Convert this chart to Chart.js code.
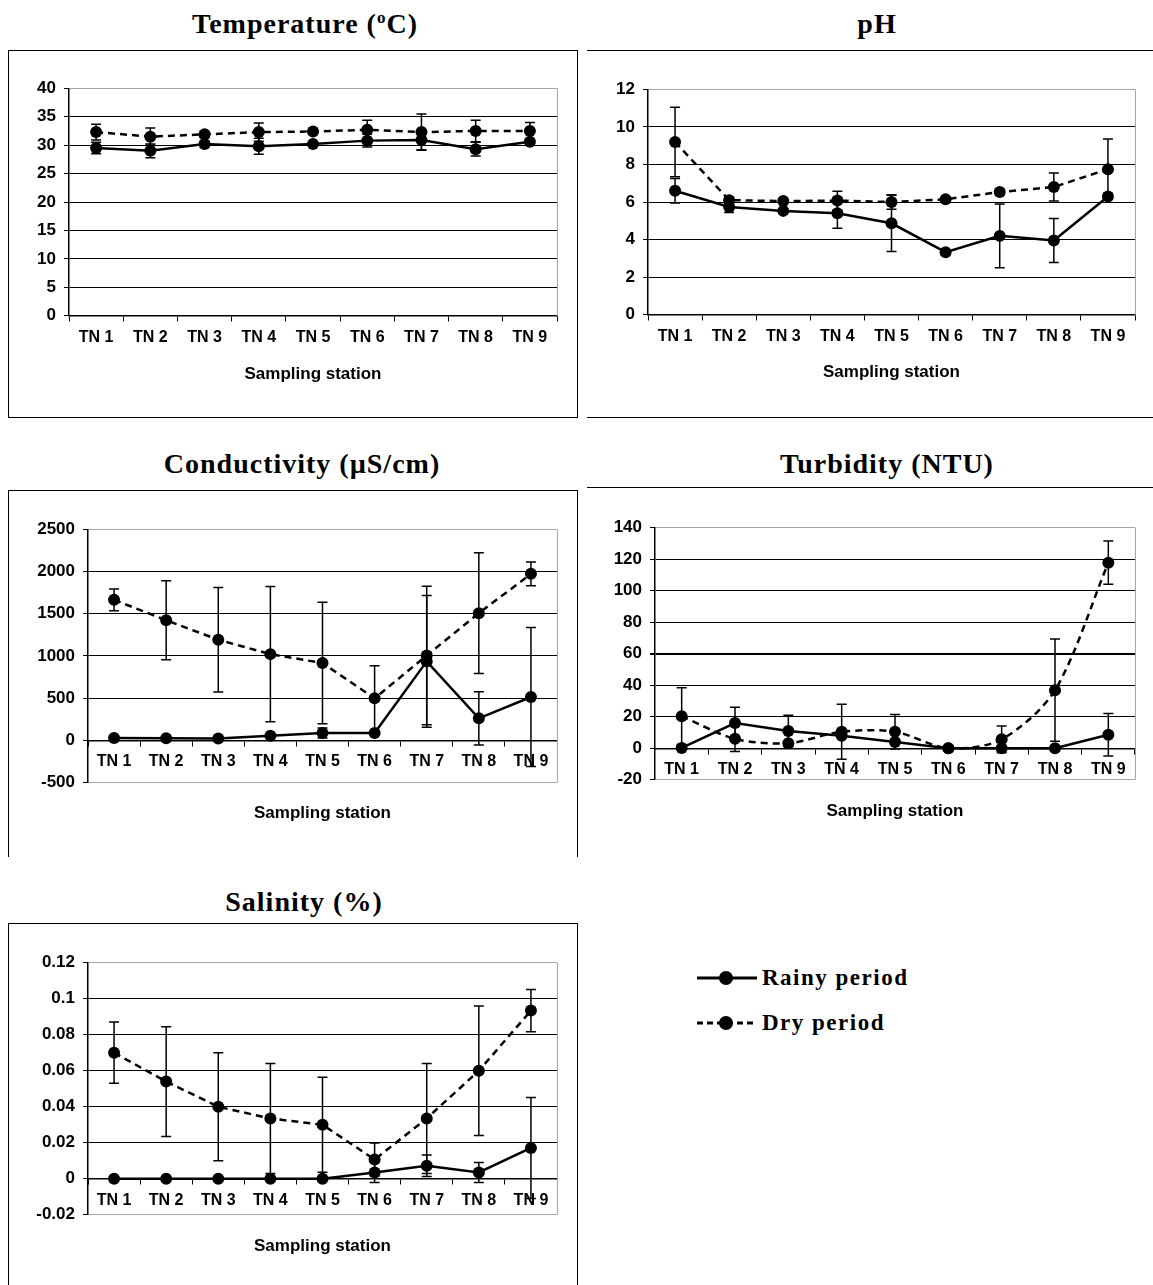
<!DOCTYPE html>
<html>
<head>
<meta charset="utf-8">
<script src="https://cdn.jsdelivr.net/npm/chart.js@4.4.0/dist/chart.umd.min.js"></script>
<style>
  body { margin: 0; background: #fff; }
  #page { position: relative; width: 1153px; height: 1285px; overflow: hidden; background: #fff; }
  .title { position: absolute; font: bold 28px 'Liberation Serif', 'Times New Roman', serif; line-height: 30px;
           letter-spacing: 1px; white-space: nowrap; transform: translateX(-50%); color: #000; }
  .title sup { font-size: 17px; vertical-align: 10px; line-height: 0; }
  .box { position: absolute; box-sizing: border-box; border: 0 solid #000; }
  .box canvas { display: block; }
  .legend { position: absolute; left: 695px; font: bold 23px 'Liberation Serif', 'Times New Roman', serif;
            letter-spacing: 1.5px; color: #000; }
  .legend div { position: absolute; left: 0; height: 30px; white-space: nowrap; }
  .legend svg { position: absolute; left: 0; top: 0; }
  .legend span { position: absolute; left: 67px; top: 0; line-height: 30px; }
</style>
</head>
<body>
<div id="page">
  <div class="title" style="left:305px;top:8.6px">Temperature (<sup>o</sup>C)</div>
  <div class="title" style="left:877px;top:8.6px">pH</div>
  <div class="title" style="left:302px;top:448.6px">Conductivity (µS/cm)</div>
  <div class="title" style="left:887px;top:448.6px">Turbidity (NTU)</div>
  <div class="title" style="left:304px;top:886.6px">Salinity (%)</div>

  <div class="box" style="left:8px;top:50px;width:570px;height:368px;border-width:1px"><canvas id="tempChart" width="568" height="366"></canvas></div>
  <div class="box" style="left:587px;top:50px;width:566px;height:368px;border-width:1px 0"><canvas id="phChart" width="566" height="366"></canvas></div>
  <div class="box" style="left:8px;top:490px;width:570px;height:367px;border-width:1px 1px 0 1px"><canvas id="condChart" width="568" height="366"></canvas></div>
  <div class="box" style="left:587px;top:487px;width:566px;height:367px;border-width:1px 0 0 0"><canvas id="turbChart" width="566" height="366"></canvas></div>
  <div class="box" style="left:8px;top:923px;width:570px;height:362px;border-width:1px 1px 0 1px"><canvas id="salChart" width="568" height="361"></canvas></div>

  <div class="legend" style="top:963px">
    <div style="top:0">
      <svg width="66" height="30"><line x1="2" y1="15" x2="62" y2="15" stroke="#000" stroke-width="3"/><circle cx="31" cy="15" r="7" fill="#000"/></svg>
      <span>Rainy period</span>
    </div>
    <div style="top:45px">
      <svg width="66" height="30"><line x1="2" y1="15" x2="62" y2="15" stroke="#000" stroke-width="3" stroke-dasharray="6 4"/><circle cx="31" cy="15" r="7" fill="#000"/></svg>
      <span>Dry period</span>
    </div>
  </div>
</div>

<script>
const stations = ['TN 1', 'TN 2', 'TN 3', 'TN 4', 'TN 5', 'TN 6', 'TN 7', 'TN 8', 'TN 9'];

// Temperature (oC)
const tempRainy   = [29.5, 29.0, 30.2, 29.8, 30.2, 30.8, 30.9, 29.3, 30.6];
const tempRainySd = [1.0, 1.2, 0.5, 1.4, 0.4, 1.1, 1.7, 1.2, 0.5];
const tempDry     = [32.3, 31.5, 31.9, 32.3, 32.4, 32.7, 32.3, 32.5, 32.5];
const tempDrySd   = [1.4, 1.5, 0.6, 1.6, 0.4, 1.7, 3.2, 1.9, 1.5];

// pH
const phRainy   = [6.6, 5.74, 5.53, 5.4, 4.87, 3.33, 4.2, 3.95, 6.3];
const phRainySd = [0.65, 0.3, 0.1, 0.8, 1.5, 0.1, 1.7, 1.17, 0.15];
const phDry     = [9.2, 6.1, 6.05, 6.08, 6.0, 6.15, 6.53, 6.8, 7.75];
const phDrySd   = [1.85, 0.15, 0.1, 0.5, 0.38, 0.1, 0.15, 0.75, 1.6];

// Conductivity (uS/cm)
const condRainy   = [28, 24, 20, 55, 87, 87, 935, 260, 513];
const condRainySd = [10, 10, 10, 20, 60, 20, 780, 315, 824];
const condDry     = [1664, 1423, 1191, 1021, 915, 497, 1005, 1506, 1972];
const condDrySd   = [130, 468, 620, 800, 720, 386, 820, 715, 140];

// Turbidity (NTU)
const turbRainy   = [0.2, 16, 11, 8, 4, 0, 0, 0, 8.6];
const turbRainySd = [0.5, 10, 10, 1, 1, 0.3, 0.3, 0.3, 13.5];
const turbDry     = [20.4, 6, 3.2, 10.5, 10.5, 0, 5.7, 36.9, 117.8];
const turbDrySd   = [18, 8, 1.5, 17.5, 11, 0.3, 8.5, 32.5, 13.7];

// Salinity (%)
const salRainy   = [0, 0, 0, 0, 0, 0.0035, 0.0072, 0.0035, 0.0171];
const salRainySd = [0, 0, 0, 0, 0.001, 0.0055, 0.006, 0.0055, 0.028];
const salDry     = [0.070, 0.054, 0.040, 0.0335, 0.030, 0.0107, 0.0335, 0.060, 0.0934];
const salDrySd   = [0.017, 0.0305, 0.030, 0.0305, 0.0264, 0.0092, 0.0305, 0.036, 0.0117];

Chart.defaults.font.family = "'Liberation Sans', Arial, sans-serif";
Chart.defaults.color = '#000';

const GRAY = '#a6a6a6';

// error bars + gray plot border (right side)
const errorBars = {
  id: 'errorBars',
  beforeDatasetsDraw(chart) {
    const { ctx, chartArea, scales: { x, y } } = chart;
    ctx.save();
    ctx.strokeStyle = GRAY;
    ctx.lineWidth = 1;
    ctx.beginPath();
    ctx.moveTo(chartArea.right + 0.5, chartArea.top);
    ctx.lineTo(chartArea.right + 0.5, chartArea.bottom);
    ctx.stroke();

    ctx.strokeStyle = '#000';
    ctx.lineWidth = 1.5;
    chart.data.datasets.forEach(ds => {
      ds.errors.forEach((e, i) => {
        if (!e) return;
        const px = x.getPixelForValue(i);
        const top = y.getPixelForValue(ds.data[i] + e);
        const bot = y.getPixelForValue(ds.data[i] - e);
        ctx.beginPath();
        ctx.moveTo(px, top); ctx.lineTo(px, bot);
        ctx.moveTo(px - 5, top); ctx.lineTo(px + 5, top);
        ctx.moveTo(px - 5, bot); ctx.lineTo(px + 5, bot);
        ctx.stroke();
      });
    });
    ctx.restore();
  }
};

function makeChart(id, p) {
  const near = (a, b) => Math.abs(a - b) < 1e-9;
  return new Chart(document.getElementById(id), {
    type: 'line',
    data: {
      labels: stations,
      datasets: [
        { label: 'Rainy period', data: p.rainy, errors: p.rainySd, borderColor: '#000', borderWidth: 2.5,
          pointRadius: 6, pointBackgroundColor: '#000', pointBorderWidth: 0, tension: 0 },
        { label: 'Dry period', data: p.dry, errors: p.drySd, borderColor: '#000', borderWidth: 2.5, borderDash: [7, 5],
          pointRadius: 6, pointBackgroundColor: '#000', pointBorderWidth: 0, tension: p.tension || 0 }
      ]
    },
    options: {
      responsive: false,
      animation: false,
      devicePixelRatio: 1,
      layout: { padding: { left: 0, top: p.top, right: p.right, bottom: 0 } },
      plugins: {
        legend: { display: false },
        tooltip: { enabled: false },
        title: {
          display: true, text: 'Sampling station', position: 'bottom', fullSize: false,
          font: { size: 17, weight: 'bold' }, color: '#000',
          padding: { top: p.tTop, bottom: p.tBot }
        }
      },
      scales: {
        x: {
          type: 'category',
          offset: true,
          position: { y: 0 },
          grid: { offset: true, drawOnChartArea: false, drawTicks: true, tickLength: 5, color: '#000', lineWidth: 1 },
          border: { color: '#000', width: 1.5 },
          ticks: { padding: 7, font: { size: 16, weight: 'bold' }, maxRotation: 0, autoSkip: false },
          afterFit: s => { s.height = 0; }
        },
        y: {
          min: p.min, max: p.max,
          ticks: { stepSize: p.step, padding: 8, font: { size: 17, weight: 'bold' },
                   callback: v => String(+v.toFixed(4)) },
          grid: {
            color: c => (c.tick && (near(c.tick.value, p.max) || near(c.tick.value, p.min) && p.min !== 0)) ? GRAY : '#000',
            lineWidth: c => (c.tick && p.thick !== undefined && near(c.tick.value, p.thick)) ? 2 : 1,
            tickColor: '#000', tickLength: 5
          },
          border: { color: '#000', width: 1.5 },
          afterFit: s => { s.width = p.yw; }
        }
      }
    },
    plugins: [errorBars]
  });
}

makeChart('tempChart', { rainy: tempRainy, rainySd: tempRainySd, dry: tempDry, drySd: tempDrySd,
  min: 0, max: 40, step: 5, yw: 60, top: 37.3, right: 20, tTop: 48.4, tBot: 32.4 });
makeChart('phChart', { rainy: phRainy, rainySd: phRainySd, dry: phDry, drySd: phDrySd,
  min: 0, max: 12, step: 2, yw: 61, top: 38.3, right: 18, tTop: 47.7, tBot: 34.1 });
makeChart('condChart', { rainy: condRainy, rainySd: condRainySd, dry: condDry, drySd: condDrySd,
  min: -500, max: 2500, step: 500, yw: 79, top: 38.3, right: 20, tTop: 20.7, tBot: 33.4 });
makeChart('turbChart', { rainy: turbRainy, rainySd: turbRainySd, dry: turbDry, drySd: turbDrySd,
  min: -20, max: 140, step: 20, yw: 68, top: 39.7, right: 18, tTop: 21.1, tBot: 32.7, tension: 0.3, thick: 60 });
makeChart('salChart', { rainy: salRainy, rainySd: salRainySd, dry: salDry, drySd: salDrySd,
  min: -0.02, max: 0.12, step: 0.02, yw: 79, top: 38.7, right: 20, tTop: 21.1, tBot: 28.7 });
</script>
</body>
</html>
